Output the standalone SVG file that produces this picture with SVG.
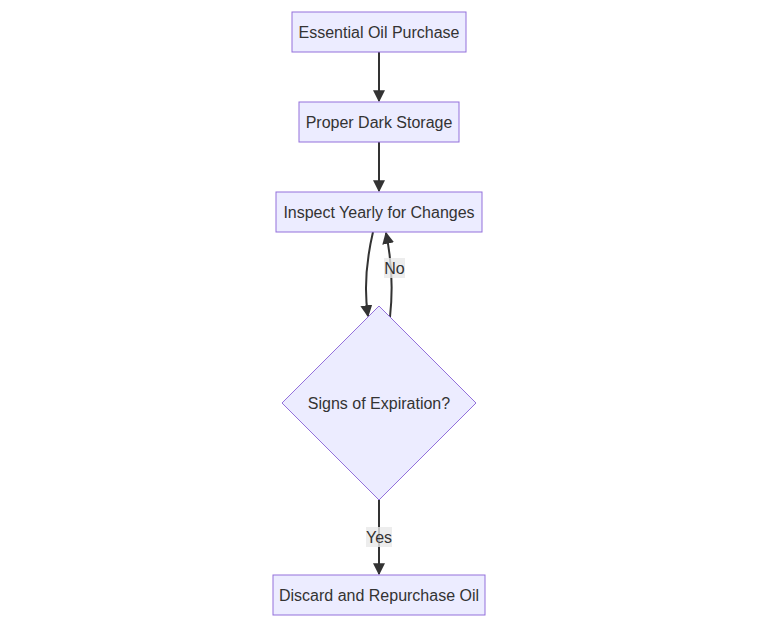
<svg xmlns="http://www.w3.org/2000/svg" width="765" height="628" viewBox="0 0 765 628">
<style>
.node rect,.node polygon{fill:#ECECFF;stroke:#9370DB;stroke-width:1}
.node text{font-family:"Trebuchet MS","Liberation Sans",Arial,sans-serif;font-size:16px;fill:#333;text-anchor:middle;dominant-baseline:central}
.edge{fill:none;stroke:#333;stroke-width:2}
.lbl rect{fill:#e8e8e8;opacity:0.8}
.lbl text{font-family:"Trebuchet MS","Liberation Sans",Arial,sans-serif;font-size:16px;fill:#333;text-anchor:middle;dominant-baseline:central}
</style>
<defs>
<marker id="arr" viewBox="0 0 10 10" refX="9" refY="5" markerUnits="userSpaceOnUse" markerWidth="12" markerHeight="12" orient="auto">
<path d="M0,0 L10,5 L0,10 z" fill="#333"/>
</marker>
</defs>
<rect width="765" height="628" fill="#fff"/>
<g id="edges">
<path class="edge" d="M379,52 L379,101" marker-end="url(#arr)"/>
<path class="edge" d="M379,142 L379,191" marker-end="url(#arr)"/>
<path class="edge" d="M373,232 C366,262 364,290 368,316" marker-end="url(#arr)"/>
<path class="edge" d="M390,317 C393,290 392,262 386,233" marker-end="url(#arr)"/>
<path class="edge" d="M379,500 L379,574" marker-end="url(#arr)"/>
<g class="lbl"><rect x="384" y="258" width="21" height="20"/><text x="394.5" y="268">No</text></g>
<g class="lbl"><rect x="366" y="527" width="26" height="20"/><text x="379" y="537">Yes</text></g>
</g>
<g id="n1" class="node"><rect x="292" y="12" width="174" height="40"/><text x="379" y="32">Essential Oil Purchase</text></g>
<g id="n2" class="node"><rect x="299" y="102" width="160" height="40"/><text x="379" y="122">Proper Dark Storage</text></g>
<g id="n3" class="node"><rect x="276" y="192" width="206" height="40"/><text x="379" y="212">Inspect Yearly for Changes</text></g>
<g id="n4" class="node"><polygon points="379,306 476,403 379,500 282,403"/><text x="379" y="403">Signs of Expiration?</text></g>
<g id="n5" class="node"><rect x="273" y="575" width="212" height="40"/><text x="379" y="595">Discard and Repurchase Oil</text></g>
</svg>
